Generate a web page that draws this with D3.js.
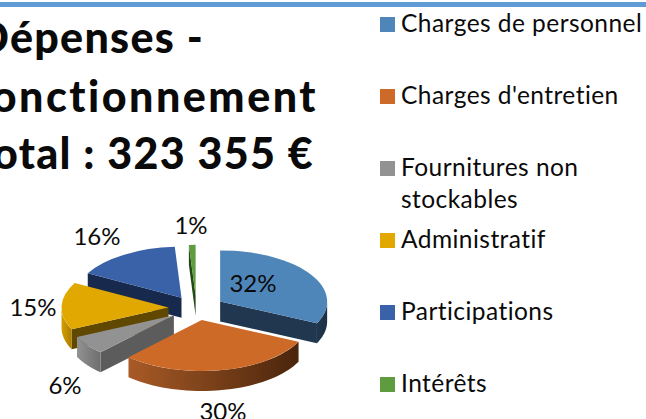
<!DOCTYPE html>
<html><head><meta charset="utf-8">
<script src="https://cdn.jsdelivr.net/npm/d3@7"></script>
<style>html,body{margin:0;padding:0;background:#fff;overflow:hidden}svg{display:block}text{font-family:Lato,"Open Sans",sans-serif;fill:#0a0a0a;font-variant-ligatures:none;font-feature-settings:"liga" 0,"clig" 0}</style>
</head><body><svg id="c" width="646" height="419"></svg>
<script>
const categories=["Charges de personnel","Charges d'entretien","Fournitures non stockables","Administratif","Participations","Intérêts"];
const values=[32,30,6,15,16,1];
const titleLines=["Dépenses -","fonctionnement","Total : 323 355 €"];
const legendLines=[["Charges de personnel"],["Charges d'entretien"],["Fournitures non","stockables"],["Administratif"],["Participations"],["Intérêts"]];
const topColors=["#4f86ba","#cd6a27","#929292","#e0a800","#3a62a9","#5f9c3f"];
const radialColors=["#20374f","#5a2d10","#5c5c5c","#604800","#172a4e","#234a16"];
const wallLight=["#20374f","#a85a26","#929292","#d49f00","#172a4e","#234a16"];
const wallDark=["#1c3046","#4a250c","#6e6e6e","#a97e00","#172a4e","#234a16"];
const drawOrder=[5,4,3,2,0,1];

const L={cx:196.5,cy:308,ex:28,ey:12.2,rx:107,ry:51,depth:20};
const labelAt=[[253,292],[223,420],[65,394],[33,316],[97,245],[191,234]];

const svg=d3.select("#c");
const defs=svg.append("defs");
svg.append("rect").attr("x",0).attr("y",2).attr("width",646).attr("height",5).attr("fill","#5f9bd5");

const arcs=d3.pie().sort(null).startAngle(0).endAngle(2*Math.PI)(values);
const pt=(o,a,dy=0)=>[o[0]+L.rx*Math.sin(a),o[1]-L.ry*Math.cos(a)+dy];
const topArc=d3.arc().innerRadius(0).outerRadius(L.rx);
const line=d3.line();

drawOrder.forEach(i=>{
  const d=arcs[i],a0=d.startAngle,a1=d.endAngle,mid=(a0+a1)/2;
  const o=[L.cx+L.ex*Math.sin(mid),L.cy-L.ey*Math.cos(mid)];
  const g=svg.append("g").attr("class","slice");
  const quad=a=>{
    const p=pt(o,a);
    return line([o,p,[p[0],p[1]+L.depth],[o[0],o[1]+L.depth]])+"Z";
  };
  if(a0>Math.PI) g.append("path").attr("d",quad(a0)).attr("fill",radialColors[i]);
  if(a1<Math.PI) g.append("path").attr("d",quad(a1)).attr("fill",radialColors[i]);
  const w0=Math.max(a0,Math.PI/2),w1=Math.min(a1,1.5*Math.PI);
  if(w1>w0){
    const n=40,as=d3.range(n+1).map(k=>w0+(w1-w0)*k/n);
    const pts=as.map(a=>pt(o,a)).concat(as.slice().reverse().map(a=>pt(o,a,L.depth)));
    const xs=pts.map(p=>p[0]);
    const id="w"+i;
    const gr=defs.append("linearGradient").attr("id",id).attr("gradientUnits","userSpaceOnUse")
      .attr("x1",d3.min(xs)).attr("x2",d3.max(xs)).attr("y1",0).attr("y2",0);
    gr.append("stop").attr("offset",0).attr("stop-color",wallLight[i]);
    gr.append("stop").attr("offset",1).attr("stop-color",wallDark[i]);
    g.append("path").attr("d",line(pts)+"Z").attr("fill",`url(#${id})`);
  }
  g.append("path").attr("transform",`translate(${o[0]},${o[1]}) scale(1,${L.ry/L.rx})`)
    .attr("d",topArc(d)).attr("fill",topColors[i]);
});

values.forEach((v,i)=>{
  svg.append("text").attr("x",labelAt[i][0]).attr("y",labelAt[i][1]).attr("text-anchor","middle")
    .attr("font-size",24).text(v+"%");
});

const titleEnd=[204,318,314],titleBase=[53,112,169],titleSpacing=[1.3,2.5,1.3];
titleLines.forEach((t,i)=>{
  svg.append("text").attr("x",titleEnd[i]).attr("y",titleBase[i]).attr("text-anchor","end")
    .attr("font-size",43).attr("font-weight",900).attr("letter-spacing",titleSpacing[i]).text(t);
});

const legendBase=[32,104,176,248,320,392];
legendLines.forEach((ls,i)=>{
  svg.append("rect").attr("x",380).attr("y",legendBase[i]-15).attr("width",15).attr("height",15).attr("fill",topColors[i]);
  ls.forEach((t,j)=>{
    svg.append("text").attr("x",401).attr("y",legendBase[i]+j*32).attr("font-size",24.5).attr("letter-spacing",0.45).text(t);
  });
});
</script></body></html>
